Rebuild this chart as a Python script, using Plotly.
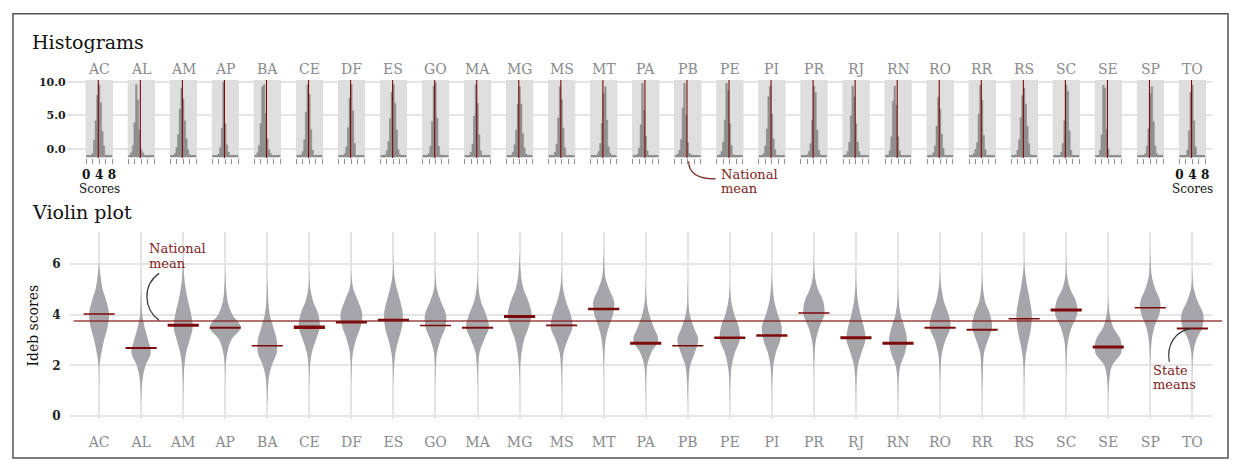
import plotly.graph_objects as go

# ---------------------------------------------------------------- data
STATES = ["AC", "AL", "AM", "AP", "BA", "CE", "DF", "ES", "GO", "MA", "MG", "MS", "MT", "PA",
          "PB", "PE", "PI", "PR", "RJ", "RN", "RO", "RR", "RS", "SC", "SE", "SP", "TO"]

# Ideb score levels at which the distributions are sampled (also the histogram bin centres)
LEVELS = [0.5, 1.0, 1.5, 2.0, 2.5, 3.0, 3.5, 4.0, 4.5, 5.0, 5.5, 6.0, 6.5]
BIN_WIDTH = 0.5

NATIONAL_MEAN = 3.75
STATE_MEANS = [4.02, 2.68, 3.58, 3.48, 2.77, 3.50, 3.70, 3.78, 3.57, 3.48, 3.92, 3.57, 4.22, 2.87,
               2.77, 3.09, 3.17, 4.06, 3.09, 2.87, 3.48, 3.40, 3.83, 4.18, 2.72, 4.27, 3.45]

# density of schools at each score level (violin widths)
VIOLIN_DENSITY = {
    "AC": [0, 0, 0.3, 1, 4.7, 10, 17, 20, 15, 7, 3, 0.3, 0],
    "AL": [0, 1, 3, 9, 19.5, 14, 7, 2, 1, 0.3, 0, 0, 0],
    "AM": [0, 0.3, 1, 2.5, 6, 13, 19, 16, 10, 5, 2, 0.5, 0],
    "AP": [0, 0, 0.3, 1, 4, 12, 31, 14, 5, 2, 0.5, 0, 0],
    "BA": [0.3, 1, 3, 9, 19, 19, 12, 5, 2, 1, 0, 0, 0],
    "CE": [0, 0, 0.5, 1.5, 5, 13, 21, 18, 8, 2, 0.3, 0, 0],
    "DF": [0, 0, 0.3, 1, 3, 9, 18, 22, 14, 4, 0.5, 0, 0],
    "ES": [0, 0, 0.5, 1.5, 4, 10, 17, 19, 14, 7, 2, 0.5, 0],
    "GO": [0, 0, 0.3, 1, 3, 10, 20, 21, 11, 3, 0.5, 0, 0],
    "MA": [0, 0, 0.5, 1.5, 4, 13, 23, 17, 7, 2, 0.3, 0, 0],
    "MG": [0, 0, 0.5, 1.5, 4, 9, 18, 24, 18, 8, 3, 1, 0],
    "MS": [0, 0, 0.5, 1.5, 4, 12, 22, 18, 9, 3, 0.5, 0, 0],
    "MT": [0, 0, 0, 0.5, 1.5, 4, 10, 19, 21, 11, 3, 1, 0],
    "PA": [0, 0.3, 1, 3, 11, 25, 16, 7, 2, 0.5, 0, 0, 0],
    "PB": [0, 0.7, 2, 5, 14, 21, 12, 4, 1, 0.5, 0, 0, 0],
    "PE": [0, 0.5, 1.5, 4, 10, 20, 18, 9, 3, 0.5, 0, 0, 0],
    "PI": [0, 0.3, 1, 3, 8, 17, 20, 12, 5, 2, 0.3, 0, 0],
    "PR": [0, 0, 0, 0.5, 1.5, 4, 11, 21, 19, 8, 2, 0.5, 0],
    "RJ": [0, 0.5, 1.5, 4, 11, 19, 16, 9, 4, 1.5, 0.3, 0, 0],
    "RN": [0, 0.5, 1.5, 5, 14, 18, 13, 5, 1.5, 0.3, 0, 0, 0],
    "RO": [0, 0, 0.5, 1.5, 4, 11, 21, 17, 8, 3, 0.5, 0, 0],
    "RR": [0, 0.3, 1, 2, 4, 12, 20, 16, 6, 2, 0.3, 0, 0],
    "RS": [0, 0, 0.5, 1.5, 4, 9, 14, 15.5, 12, 7, 3, 0.5, 0],
    "SC": [0, 0, 0, 0.5, 1.5, 4, 11, 22, 20, 8, 2, 0.5, 0],
    "SE": [0, 0.5, 2.5, 8, 26, 25, 10, 3, 0.5, 0, 0, 0, 0],
    "SP": [0, 0, 0, 0.3, 1, 3, 8, 18, 20, 10, 3, 1, 0],
    "TO": [0, 0, 0, 0.5, 2, 8, 20, 22, 11, 3, 0.5, 0, 0],
}

# share of schools (%) in each half-point score bin
HIST_SHARE = {
    "AC": [0, 0, 0.2, 0.5, 2.5, 5.4, 9.2, 10.8, 8.1, 3.8, 1.6, 0.2, 0],
    "AL": [0, 0.6, 1.7, 5.1, 10.8, 8.5, 4.0, 1.1, 0.6, 0.2, 0, 0, 0],
    "AM": [0, 0.2, 0.5, 1.4, 3.3, 7.1, 10.3, 8.7, 5.4, 2.7, 1.1, 0.3, 0],
    "AP": [0, 0, 0.1, 0.4, 1.4, 4.3, 11.2, 5.0, 1.8, 0.7, 0.2, 0, 0],
    "BA": [0.2, 0.6, 1.7, 5.0, 10.5, 10.8, 6.5, 2.7, 1.1, 0.5, 0, 0, 0],
    "CE": [0, 0, 0.3, 0.8, 2.6, 6.7, 10.8, 9.3, 4.1, 1.0, 0.2, 0, 0],
    "DF": [0, 0, 0.1, 0.5, 1.5, 4.4, 8.8, 10.8, 6.9, 2.0, 0.2, 0, 0],
    "ES": [0, 0, 0.3, 0.9, 2.3, 5.7, 9.7, 10.8, 8.0, 4.0, 1.1, 0.3, 0],
    "GO": [0, 0, 0.2, 0.5, 1.6, 5.3, 10.6, 11.1, 5.8, 1.6, 0.3, 0, 0],
    "MA": [0, 0, 0.2, 0.7, 1.9, 6.1, 10.8, 8.0, 3.3, 0.9, 0.1, 0, 0],
    "MG": [0, 0, 0.2, 0.7, 1.8, 4.0, 7.9, 10.5, 7.9, 3.5, 1.3, 0.4, 0],
    "MS": [0, 0, 0.2, 0.7, 1.9, 5.8, 10.5, 8.6, 4.3, 1.4, 0.2, 0, 0],
    "MT": [0, 0, 0, 0.3, 0.8, 2.0, 5.0, 9.5, 10.5, 5.5, 1.5, 0.5, 0],
    "PA": [0, 0.1, 0.4, 1.3, 4.8, 11.0, 7.0, 3.1, 0.9, 0.2, 0, 0, 0],
    "PB": [0, 0.4, 1.0, 2.6, 7.3, 11.0, 6.3, 2.1, 0.5, 0.3, 0, 0, 0],
    "PE": [0, 0.3, 0.8, 2.2, 5.5, 11.0, 9.9, 5.0, 1.7, 0.3, 0, 0, 0],
    "PI": [0, 0.2, 0.5, 1.6, 4.2, 9.0, 10.6, 6.4, 2.7, 1.1, 0.2, 0, 0],
    "PR": [0, 0, 0, 0.3, 0.8, 2.0, 5.5, 10.6, 9.6, 4.0, 1.0, 0.3, 0],
    "RJ": [0, 0.3, 0.8, 2.2, 6.2, 10.6, 9.0, 5.0, 2.2, 0.8, 0.2, 0, 0],
    "RN": [0, 0.3, 0.9, 3.0, 8.3, 10.6, 7.7, 3.0, 0.9, 0.2, 0, 0, 0],
    "RO": [0, 0, 0.2, 0.6, 1.7, 4.6, 8.9, 7.1, 3.4, 1.3, 0.2, 0, 0],
    "RR": [0, 0.2, 0.5, 1.1, 2.1, 6.4, 10.7, 8.5, 3.2, 1.1, 0.2, 0, 0],
    "RS": [0, 0, 0.3, 1.0, 2.6, 5.9, 9.2, 10.3, 7.9, 4.6, 2.0, 0.3, 0],
    "SC": [0, 0, 0, 0.2, 0.7, 2.0, 5.4, 10.7, 9.8, 3.9, 1.0, 0.2, 0],
    "SE": [0, 0.2, 1.0, 3.3, 10.7, 10.3, 4.1, 1.2, 0.2, 0, 0, 0, 0],
    "SP": [0, 0, 0, 0.2, 0.5, 1.6, 4.2, 9.5, 10.5, 5.3, 1.6, 0.5, 0],
    "TO": [0, 0, 0, 0.2, 1.0, 3.9, 9.7, 10.7, 5.4, 1.5, 0.2, 0, 0],
}

HIST_X_TICKS = [0, 2, 4, 6, 8]
HIST_X_TICKTEXT = ["0", "", "4", "", "8"]
HIST_Y_TICKS = [0, 5, 10]
HIST_Y_TICKTEXT = ["0.0", "5.0", "10.0"]
VIOLIN_Y_TICKS = [0, 2, 4, 6]

# ---------------------------------------------------------------- styling
FIG_W, FIG_H = 1235, 469
SERIF = "DejaVu Serif"
DARK_RED = "#7c0a0a"
NOTE_RED = "#7d2222"
VIOLIN_GRAY = "#a5a5aa"
BAR_GRAY = "#8f8f8f"
PANEL_BG = "#dedede"
GRID = "#e4e4e4"
LABEL_GRAY = "#8a8a8e"

MEAN_LINE_WIDTH = [1.5, 2, 3, 2, 1.5, 3.5, 2.5, 2.5, 1.5, 1.8, 3, 1.8, 2.5, 3,
                   1.5, 2.5, 2.5, 1.5, 3, 3, 2, 2, 1.5, 3, 3, 1.5, 2]
MEAN_HALF_LEN = 0.37          # half length of a state-mean tick, in category units
VIOLIN_SCALE = 1 / 84.5       # half width (category units) per density unit

HIST_X_RANGE = (-0.25, 8.3)
HIST_Y_RANGE = (-1.4, 10.3)
HIST_BASE = -1.2
HIST_PX_PER_SCORE = 3.25

V_X_DOMAIN_PX = (67, 1215)
V_X_RANGE = (-0.70, 26.47)
V_Y_DOMAIN_PX = (422.7, 231.9)   # bottom, top
V_Y_RANGE = (-0.13, 7.25)
H_Y_DOMAIN_PX = (156.8, 77.3)
H_GRID_PX = (64, 1215)
VIOLIN_X, VIOLIN_Y = "x29", "y2"


def px_x(x):
    return x / FIG_W


def px_y(y):
    return 1 - y / FIG_H


def cat_px(i):
    span = (V_X_DOMAIN_PX[1] - V_X_DOMAIN_PX[0]) / (V_X_RANGE[1] - V_X_RANGE[0])
    return V_X_DOMAIN_PX[0] + (i - V_X_RANGE[0]) * span


def px_path(points):
    cmd = []
    for p in points:
        if isinstance(p, str):
            cmd.append(p)
        else:
            cmd.append(f"{px_x(p[0]):.5f},{px_y(p[1]):.5f}")
    return " ".join(cmd)


def step_outline(centres, heights, base, width):
    """Closed outline of a histogram whose bins sit on `base`."""
    xs, ys = [centres[0] - width / 2], [base]
    for c, h in zip(centres, heights):
        xs += [c - width / 2, c + width / 2]
        ys += [base + h, base + h]
    xs.append(centres[-1] + width / 2)
    ys.append(base)
    return xs, ys


fig = go.Figure()
layout = dict(
    width=FIG_W, height=FIG_H,
    margin=dict(l=0, r=0, t=0, b=0),
    paper_bgcolor="white", plot_bgcolor="rgba(0,0,0,0)",
    showlegend=False,
    font=dict(family=SERIF, color="#111"),
)
shapes = []
annotations = []

# ---------------------------------------------------------------- histograms
# full-width frame carrying the shared percentage scale and its gridlines
H_Y_DOMAIN = [px_y(H_Y_DOMAIN_PX[0]), px_y(H_Y_DOMAIN_PX[1])]
layout["xaxis"] = dict(domain=[px_x(H_GRID_PX[0]), px_x(H_GRID_PX[1])], range=[0, 1],
                       showticklabels=False, showgrid=False, zeroline=False, showline=False,
                       ticks="", fixedrange=True)
layout["yaxis"] = dict(
    domain=H_Y_DOMAIN, range=list(HIST_Y_RANGE), anchor="x",
    tickvals=HIST_Y_TICKS, ticktext=HIST_Y_TICKTEXT, showgrid=True, gridcolor=GRID, gridwidth=1.5,
    zeroline=False, showline=False, ticks="", fixedrange=True,
    tickfont=dict(family=SERIF, size=11, color="#222", weight="bold"),
)
fig.add_trace(go.Scatter(x=[0, 1], y=[-5, -5], mode="lines", line=dict(width=0),
                         xaxis="x", yaxis="y", hoverinfo="skip"))

for i, s in enumerate(STATES):
    n = i + 2
    xa, ya = f"x{n}", f"y{n + 1}"
    c = cat_px(i)
    left = c - (4 - HIST_X_RANGE[0]) * HIST_PX_PER_SCORE
    right = c + (HIST_X_RANGE[1] - 4) * HIST_PX_PER_SCORE
    edge = i in (0, len(STATES) - 1)
    layout[f"xaxis{n}"] = dict(
        domain=[px_x(left), px_x(right)], range=list(HIST_X_RANGE), anchor=ya,
        tickvals=HIST_X_TICKS, ticktext=HIST_X_TICKTEXT, ticks="outside", ticklen=5,
        tickcolor="#8f8f8f", tickwidth=1, showgrid=False, zeroline=False, showline=False,
        showticklabels=edge, fixedrange=True,
        tickfont=dict(family=SERIF, size=12, color="#111", weight="bold"),
    )
    layout[f"yaxis{n + 1}"] = dict(domain=H_Y_DOMAIN, range=list(HIST_Y_RANGE), anchor=xa,
                                   showgrid=False, showticklabels=False, zeroline=False,
                                   showline=False, ticks="", fixedrange=True)
    shapes.append(dict(type="rect", xref=xa, yref=ya, x0=HIST_X_RANGE[0], x1=HIST_X_RANGE[1],
                       y0=HIST_Y_RANGE[0], y1=HIST_Y_RANGE[1], fillcolor=PANEL_BG,
                       line=dict(width=0), layer="between"))
    shapes.append(dict(type="rect", xref=xa, yref=ya, x0=0, x1=8, y0=HIST_BASE - 0.05,
                       y1=HIST_BASE + 0.25, fillcolor=BAR_GRAY, line=dict(width=0), layer="between"))
    hx, hy = step_outline(LEVELS, HIST_SHARE[s], HIST_BASE, BIN_WIDTH)
    fig.add_trace(go.Scatter(x=hx, y=hy, mode="lines", fill="toself", fillcolor=BAR_GRAY,
                             line=dict(width=0.5, color=BAR_GRAY), xaxis=xa, yaxis=ya,
                             hoverinfo="skip"))
    fig.add_trace(go.Scatter(x=[NATIONAL_MEAN, NATIONAL_MEAN], y=list(HIST_Y_RANGE), mode="lines",
                             line=dict(color=DARK_RED, width=1.1), xaxis=xa, yaxis=ya,
                             hoverinfo="skip"))
    # state label above each panel
    annotations.append(dict(text=s, xref=VIOLIN_X, x=i, yref="paper", y=px_y(66), showarrow=False,
                            xanchor="center", yanchor="middle",
                            font=dict(family=SERIF, size=14, color=LABEL_GRAY)))
    if edge:
        annotations.append(dict(text="Scores", xref=xa, x=4, yref="paper", y=px_y(188),
                                showarrow=False, xanchor="center", yanchor="middle",
                                font=dict(family=SERIF, size=12, color="#111")))

# ---------------------------------------------------------------- violins
layout["xaxis29"] = dict(
    domain=[px_x(V_X_DOMAIN_PX[0]), px_x(V_X_DOMAIN_PX[1])], range=list(V_X_RANGE), anchor=VIOLIN_Y,
    tickvals=list(range(len(STATES))), ticktext=STATES, showgrid=True, gridcolor=GRID, gridwidth=1.5,
    zeroline=False, showline=False, ticks="outside", ticklen=10, tickcolor="rgba(0,0,0,0)",
    tickfont=dict(family=SERIF, size=14, color=LABEL_GRAY), fixedrange=True,
)
layout["yaxis2"] = dict(
    domain=[px_y(V_Y_DOMAIN_PX[0]), px_y(V_Y_DOMAIN_PX[1])], range=list(V_Y_RANGE), anchor=VIOLIN_X,
    tickvals=VIOLIN_Y_TICKS, showgrid=True, gridcolor=GRID, gridwidth=1.5, zeroline=False,
    showline=False, ticks="", fixedrange=True, ticklabelstandoff=8,
    tickfont=dict(family=SERIF, size=12, color="#222", weight="bold"),
    title=dict(text="Ideb scores", font=dict(family=SERIF, size=14, color="#111"), standoff=10),
)

for i, s in enumerate(STATES):
    d = VIOLIN_DENSITY[s]
    xs = [i - v * VIOLIN_SCALE for v in d] + [i + v * VIOLIN_SCALE for v in d[::-1]]
    ys = LEVELS + LEVELS[::-1]
    fig.add_trace(go.Scatter(x=xs, y=ys, mode="lines", fill="toself", fillcolor=VIOLIN_GRAY,
                             line=dict(width=0, shape="spline", smoothing=1, color=VIOLIN_GRAY),
                             xaxis=VIOLIN_X, yaxis=VIOLIN_Y, hoverinfo="skip"))

for i, m in enumerate(STATE_MEANS):
    fig.add_trace(go.Scatter(x=[i - MEAN_HALF_LEN, i + MEAN_HALF_LEN], y=[m, m], mode="lines",
                             line=dict(color=DARK_RED, width=MEAN_LINE_WIDTH[i]),
                             xaxis=VIOLIN_X, yaxis=VIOLIN_Y, hoverinfo="skip"))

# national mean across the violin panel
shapes.append(dict(type="line", xref="paper", yref=VIOLIN_Y, x0=px_x(71), x1=px_x(1225),
                   y0=NATIONAL_MEAN, y1=NATIONAL_MEAN,
                   line=dict(color="rgba(130,20,20,0.6)", width=2), layer="above"))

# ---------------------------------------------------------------- titles and notes
annotations += [
    dict(text="Histograms", xref="paper", yref="paper", x=px_x(27), y=px_y(39), xanchor="left",
         yanchor="middle", showarrow=False, font=dict(family=SERIF, size=19, color="#111")),
    dict(text="Violin plot", xref="paper", yref="paper", x=px_x(27), y=px_y(212), xanchor="left",
         yanchor="middle", showarrow=False, font=dict(family=SERIF, size=19, color="#111")),
]


def note(lines, x, y0, step=14.5):
    for k, t in enumerate(lines):
        annotations.append(dict(text=t, xref="paper", yref="paper", x=px_x(x), y=px_y(y0 + k * step),
                                xanchor="left", yanchor="middle", showarrow=False,
                                font=dict(family=SERIF, size=13, color=NOTE_RED)))


note(["National", "mean"], 719, 173)
note(["National", "mean"], 145, 249)
note(["State", "means"], 1154, 372.5)

shapes += [
    dict(type="path", xref="paper", yref="paper",
         path=px_path(["M", (689, 160), "C", (689, 172), (699, 178), (716, 178)]),
         line=dict(color=NOTE_RED, width=1.2)),
    dict(type="path", xref="paper", yref="paper",
         path=px_path(["M", (157, 274), "C", (140, 286), (141, 310), (157, 322)]),
         line=dict(color="#333", width=1.2)),
    dict(type="path", xref="paper", yref="paper",
         path=px_path(["M", (1172, 364), "C", (1169, 346), (1178, 333), (1194, 330)]),
         line=dict(color="#333", width=1.2)),
    dict(type="rect", xref="paper", yref="paper", x0=px_x(10), x1=px_x(1231), y0=px_y(462),
         y1=px_y(10), line=dict(color="#555", width=1.5), fillcolor="rgba(0,0,0,0)"),
]

layout["shapes"] = shapes
layout["annotations"] = annotations
fig.update_layout(**layout)
fig.write_html("out.html")
